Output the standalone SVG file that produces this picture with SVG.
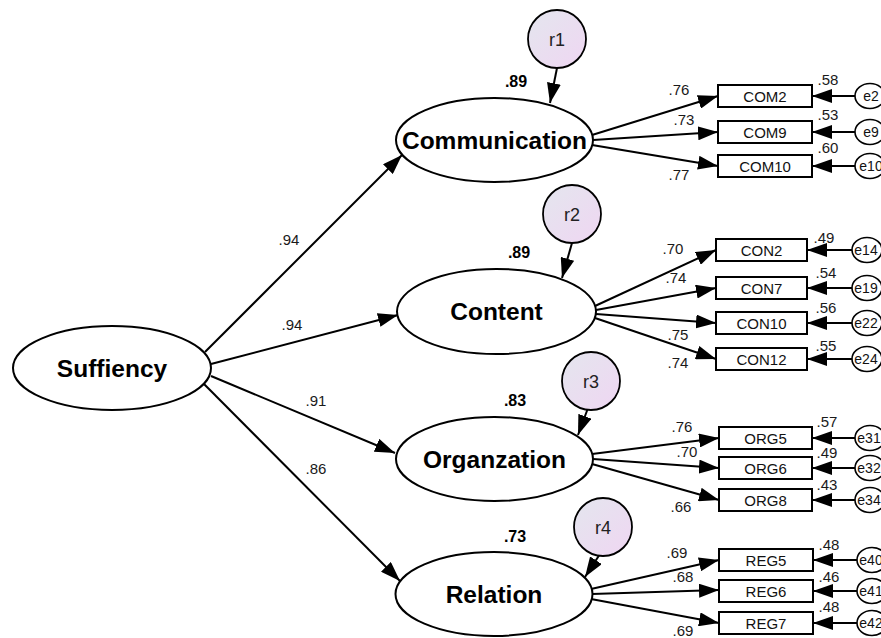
<svg xmlns="http://www.w3.org/2000/svg" width="881" height="638" viewBox="0 0 881 638">
  <defs>
    <linearGradient id="resid" x1="0" y1="0" x2="1" y2="1">
      <stop offset="0" stop-color="#e4e6ee"/>
      <stop offset="1" stop-color="#efd6f2"/>
    </linearGradient>
    <marker id="arr" markerUnits="userSpaceOnUse" markerWidth="20" markerHeight="14" refX="20" refY="7" orient="auto">
      <path d="M0,0 L20,7 L0,14 z" fill="#000"/>
    </marker>
  </defs>
  <style>
    .lat { fill: #fff; stroke: #000; stroke-width: 2; }
    .latt { font-family: "Liberation Sans", Arial, sans-serif; font-weight: bold; font-size: 24.5px; text-anchor: middle; fill: #000; }
    .obs { fill: #fff; stroke: #000; stroke-width: 2; }
    .obst { font-family: "Liberation Sans", Arial, sans-serif; font-size: 15px; text-anchor: middle; fill: #111; }
    .err { fill: #fff; stroke: #000; stroke-width: 1.6; }
    .errt { font-family: "Liberation Sans", Arial, sans-serif; font-size: 14px; text-anchor: middle; fill: #111; }
    .res { fill: url(#resid); stroke: #000; stroke-width: 1.8; }
    .rest { font-family: "Liberation Sans", Arial, sans-serif; font-size: 18px; text-anchor: middle; fill: #222; }
    .num { font-family: "Liberation Sans", Arial, sans-serif; font-size: 15px; text-anchor: middle; fill: #1a1a1a; }
    .sq { font-family: "Liberation Sans", Arial, sans-serif; font-size: 16px; font-weight: bold; text-anchor: middle; fill: #000; }
    .c { stroke: #000; stroke-width: 2; fill: none; marker-end: url(#arr); }
  </style>
  <rect width="881" height="638" fill="#fff"/>

  <!-- paths -->
  <g id="connectors">
    <!-- structural paths -->
    <line class="c" x1="205" y1="352" x2="402" y2="155"/>
    <line class="c" x1="211" y1="364" x2="398" y2="315"/>
    <line class="c" x1="211" y1="376" x2="395" y2="453"/>
    <line class="c" x1="203" y1="383" x2="400" y2="581"/>
    <!-- residuals to latents -->
    <line class="c" x1="557" y1="68" x2="550" y2="103"/>
    <line class="c" x1="572" y1="243" x2="562" y2="278"/>
    <line class="c" x1="588" y1="408" x2="578" y2="435"/>
    <line class="c" x1="600" y1="554" x2="585" y2="577"/>
    <!-- Communication loadings -->
    <line class="c" x1="592" y1="135" x2="718" y2="96"/>
    <line class="c" x1="593" y1="140" x2="718" y2="132"/>
    <line class="c" x1="592" y1="145" x2="718" y2="166"/>
    <!-- Content loadings -->
    <line class="c" x1="595" y1="306" x2="716" y2="250"/>
    <line class="c" x1="596" y1="310" x2="716" y2="288"/>
    <line class="c" x1="596" y1="314" x2="716" y2="323"/>
    <line class="c" x1="595" y1="318" x2="716" y2="359"/>
    <!-- Organzation loadings -->
    <line class="c" x1="592" y1="454" x2="719" y2="438"/>
    <line class="c" x1="593" y1="459" x2="719" y2="468"/>
    <line class="c" x1="592" y1="464" x2="719" y2="500"/>
    <!-- Relation loadings -->
    <line class="c" x1="591" y1="589" x2="719" y2="560"/>
    <line class="c" x1="592" y1="594" x2="719" y2="590"/>
    <line class="c" x1="591" y1="599" x2="719" y2="623"/>
    <!-- error terms -->
    <line class="c" x1="855" y1="96" x2="812" y2="96"/>
    <line class="c" x1="855" y1="132" x2="812" y2="132"/>
    <line class="c" x1="855" y1="166" x2="812" y2="166"/>
    <line class="c" x1="852" y1="250" x2="807" y2="250"/>
    <line class="c" x1="852" y1="288" x2="807" y2="288"/>
    <line class="c" x1="852" y1="323" x2="807" y2="323"/>
    <line class="c" x1="852" y1="359" x2="807" y2="359"/>
    <line class="c" x1="855" y1="438" x2="812" y2="438"/>
    <line class="c" x1="855" y1="468" x2="812" y2="468"/>
    <line class="c" x1="855" y1="500" x2="812" y2="500"/>
    <line class="c" x1="857" y1="560" x2="813" y2="560"/>
    <line class="c" x1="857" y1="591" x2="813" y2="591"/>
    <line class="c" x1="857" y1="623" x2="813" y2="623"/>
  </g>

  <!-- coefficient labels -->
  <g id="coefficients">
    <text class="num" x="289" y="245">.94</text>
    <text class="num" x="292" y="330">.94</text>
    <text class="num" x="316" y="406">.91</text>
    <text class="num" x="316" y="474">.86</text>

    <text class="num" x="679" y="95">.76</text>
    <text class="num" x="684" y="125">.73</text>
    <text class="num" x="679" y="180">.77</text>
    <text class="num" x="828" y="85">.58</text>
    <text class="num" x="828" y="120">.53</text>
    <text class="num" x="828" y="153">.60</text>

    <text class="num" x="673" y="254">.70</text>
    <text class="num" x="676" y="283">.74</text>
    <text class="num" x="678" y="340">.75</text>
    <text class="num" x="678" y="368">.74</text>
    <text class="num" x="824" y="243">.49</text>
    <text class="num" x="826" y="278">.54</text>
    <text class="num" x="826" y="313">.56</text>
    <text class="num" x="826" y="351">.55</text>

    <text class="num" x="682" y="432">.76</text>
    <text class="num" x="687" y="457">.70</text>
    <text class="num" x="681" y="512">.66</text>
    <text class="num" x="827" y="427">.57</text>
    <text class="num" x="827" y="458">.49</text>
    <text class="num" x="827" y="490">.43</text>

    <text class="num" x="677" y="558">.69</text>
    <text class="num" x="683" y="582">.68</text>
    <text class="num" x="683" y="635.5">.69</text>
    <text class="num" x="829" y="550">.48</text>
    <text class="num" x="829" y="582">.46</text>
    <text class="num" x="829" y="612">.48</text>

    <text class="sq" x="516" y="87">.89</text>
    <text class="sq" x="519" y="258">.89</text>
    <text class="sq" x="515" y="406">.83</text>
    <text class="sq" x="515" y="542">.73</text>
  </g>

  <!-- latent factors -->
  <g id="Suffiency">
    <ellipse class="lat" cx="112" cy="368" rx="99" ry="42"/>
    <text class="latt" x="112" y="377">Suffiency</text>
  </g>
  <g id="Communication">
    <ellipse class="lat" cx="494.5" cy="140" rx="98.5" ry="42"/>
    <text class="latt" x="494.5" y="148.5">Communication</text>
  </g>
  <g id="Content">
    <ellipse class="lat" cx="496.5" cy="311.5" rx="99.5" ry="42.5"/>
    <text class="latt" x="496.5" y="320">Content</text>
  </g>
  <g id="Organzation">
    <ellipse class="lat" cx="494.5" cy="459" rx="98.5" ry="42"/>
    <text class="latt" x="494.5" y="467.5">Organzation</text>
  </g>
  <g id="Relation">
    <ellipse class="lat" cx="494" cy="594" rx="98.5" ry="42"/>
    <text class="latt" x="494" y="602.5">Relation</text>
  </g>

  <!-- residual terms -->
  <g id="r1"><circle class="res" cx="557" cy="39" r="29"/><text class="rest" x="557" y="45.5">r1</text></g>
  <g id="r2"><circle class="res" cx="572" cy="214" r="29"/><text class="rest" x="572" y="220.5">r2</text></g>
  <g id="r3"><circle class="res" cx="591" cy="381" r="29"/><text class="rest" x="591" y="387.5">r3</text></g>
  <g id="r4"><circle class="res" cx="603" cy="527" r="29"/><text class="rest" x="603" y="533.5">r4</text></g>

  <!-- observed indicators -->
  <g id="COM2"><rect class="obs" x="718" y="85" width="94" height="22"/><text class="obst" x="765" y="101.5">COM2</text></g>
  <g id="COM9"><rect class="obs" x="718" y="121" width="94" height="22"/><text class="obst" x="765" y="137.5">COM9</text></g>
  <g id="COM10"><rect class="obs" x="718" y="155" width="94" height="22"/><text class="obst" x="765" y="171.5">COM10</text></g>

  <g id="CON2"><rect class="obs" x="716" y="239" width="91" height="22"/><text class="obst" x="761.5" y="255.5">CON2</text></g>
  <g id="CON7"><rect class="obs" x="716" y="277" width="91" height="22"/><text class="obst" x="761.5" y="293.5">CON7</text></g>
  <g id="CON10"><rect class="obs" x="716" y="312" width="91" height="22"/><text class="obst" x="761.5" y="328.5">CON10</text></g>
  <g id="CON12"><rect class="obs" x="716" y="348" width="91" height="22"/><text class="obst" x="761.5" y="364.5">CON12</text></g>

  <g id="ORG5"><rect class="obs" x="719" y="427" width="93" height="22"/><text class="obst" x="765.5" y="443.5">ORG5</text></g>
  <g id="ORG6"><rect class="obs" x="719" y="457" width="93" height="22"/><text class="obst" x="765.5" y="473.5">ORG6</text></g>
  <g id="ORG8"><rect class="obs" x="719" y="489" width="93" height="22"/><text class="obst" x="765.5" y="505.5">ORG8</text></g>

  <g id="REG5"><rect class="obs" x="719" y="549" width="94" height="22"/><text class="obst" x="766" y="565.5">REG5</text></g>
  <g id="REG6"><rect class="obs" x="719" y="580" width="94" height="22"/><text class="obst" x="766" y="596.5">REG6</text></g>
  <g id="REG7"><rect class="obs" x="719" y="612" width="94" height="22"/><text class="obst" x="766" y="628.5">REG7</text></g>

  <!-- measurement errors -->
  <g id="e2"><ellipse class="err" cx="870" cy="96" rx="15" ry="12.5"/><text class="errt" x="871" y="101">e2</text></g>
  <g id="e9"><ellipse class="err" cx="870" cy="132" rx="15" ry="12.5"/><text class="errt" x="871" y="137">e9</text></g>
  <g id="e10"><ellipse class="err" cx="870" cy="166" rx="15" ry="12.5"/><text class="errt" x="871" y="171">e10</text></g>

  <g id="e14"><ellipse class="err" cx="867" cy="250" rx="15" ry="12.5"/><text class="errt" x="866" y="255">e14</text></g>
  <g id="e19"><ellipse class="err" cx="867" cy="288" rx="15" ry="12.5"/><text class="errt" x="866" y="293">e19</text></g>
  <g id="e22"><ellipse class="err" cx="867" cy="323" rx="15" ry="12.5"/><text class="errt" x="866" y="328">e22</text></g>
  <g id="e24"><ellipse class="err" cx="867" cy="359" rx="15" ry="12.5"/><text class="errt" x="866" y="364">e24</text></g>

  <g id="e31"><ellipse class="err" cx="870" cy="438" rx="15" ry="12.5"/><text class="errt" x="869" y="443">e31</text></g>
  <g id="e32"><ellipse class="err" cx="870" cy="468" rx="15" ry="12.5"/><text class="errt" x="869" y="473">e32</text></g>
  <g id="e34"><ellipse class="err" cx="870" cy="500" rx="15" ry="12.5"/><text class="errt" x="869" y="505">e34</text></g>

  <g id="e40"><ellipse class="err" cx="872" cy="560" rx="15" ry="12.5"/><text class="errt" x="871" y="565">e40</text></g>
  <g id="e41"><ellipse class="err" cx="872" cy="591" rx="15" ry="12.5"/><text class="errt" x="871" y="596">e41</text></g>
  <g id="e42"><ellipse class="err" cx="872" cy="623" rx="15" ry="12.5"/><text class="errt" x="871" y="628">e42</text></g>
</svg>
